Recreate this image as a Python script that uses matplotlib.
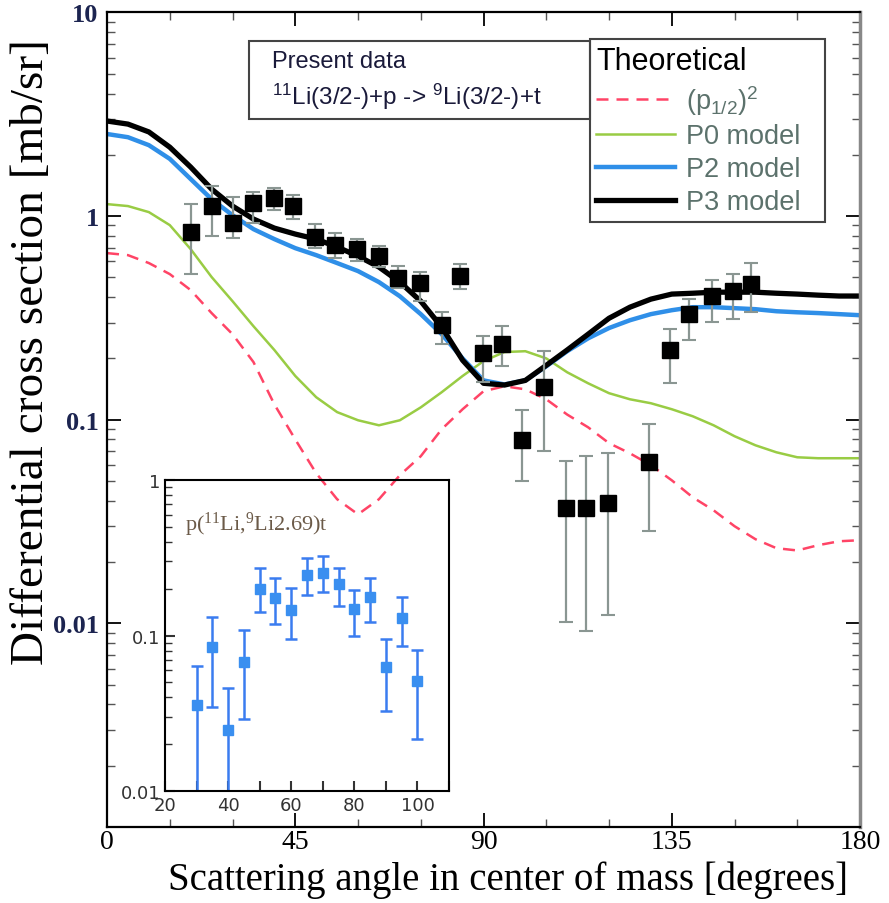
import matplotlib.pyplot as plt
from matplotlib.ticker import MultipleLocator, LogLocator, NullFormatter
from matplotlib.patches import Rectangle

# theory curves, read every 5 degrees
angle = list(range(0, 181, 5))
p3 = [2.93, 2.83, 2.59, 2.18, 1.74, 1.357, 1.12, 0.967, 0.873, 0.816, 0.771, 0.705,
      0.636, 0.562, 0.474, 0.382, 0.285, 0.196, 0.151, 0.148, 0.156, 0.185, 0.22, 0.263,
      0.315, 0.357, 0.391, 0.414, 0.418, 0.423, 0.423, 0.423, 0.418, 0.414, 0.409, 0.405, 0.405]
p2 = [2.53, 2.44, 2.23, 1.91, 1.52, 1.21, 1.01, 0.863, 0.771, 0.696, 0.643, 0.588,
      0.537, 0.474, 0.404, 0.33, 0.263, 0.2, 0.156, 0.149, 0.156, 0.183, 0.217, 0.251,
      0.282, 0.308, 0.33, 0.345, 0.357, 0.357, 0.353, 0.349, 0.341, 0.337, 0.334, 0.33, 0.326]
p0 = [1.145, 1.12, 1.046, 0.903, 0.688, 0.502, 0.382, 0.288, 0.22, 0.164, 0.129, 0.109,
      0.0994, 0.0939, 0.0994, 0.115, 0.1365, 0.164, 0.194, 0.215, 0.217, 0.2, 0.171, 0.151,
      0.135, 0.126, 0.1205, 0.1126, 0.104, 0.0939, 0.083, 0.0749, 0.0692, 0.0654, 0.0647, 0.0647, 0.0647]
p12 = [0.658, 0.643, 0.588, 0.519, 0.433, 0.334, 0.263, 0.192, 0.119, 0.080, 0.0546, 0.0407,
       0.0343, 0.0407, 0.0534, 0.0662, 0.0898, 0.1126, 0.138, 0.146, 0.141, 0.126, 0.106, 0.0918,
       0.0767, 0.0684, 0.0598, 0.0504, 0.0416, 0.0359, 0.030, 0.0259, 0.0234, 0.0228, 0.0242, 0.0253, 0.0256]

# present data
dat_x = [20.0, 25.0, 30.1, 35.0, 39.8, 44.4, 49.8, 54.5, 59.7, 64.9, 69.5, 74.8, 80.0, 84.3,
         89.9, 94.5, 99.2, 104.4, 109.6, 114.4, 119.7, 129.5, 134.6, 139.2, 144.6, 149.7, 154.0]
dat_y = [0.834, 1.124, 0.924, 1.158, 1.222, 1.124, 0.786, 0.72, 0.689, 0.634, 0.494, 0.467, 0.292, 0.509,
         0.212, 0.235, 0.0793, 0.144, 0.0367, 0.0367, 0.0392, 0.062, 0.22, 0.332, 0.406, 0.43, 0.463]
dat_hi = [1.145, 1.41, 1.236, 1.32, 1.38, 1.268, 0.913, 0.822, 0.771, 0.712, 0.566, 0.529, 0.338, 0.581,
          0.258, 0.288, 0.111, 0.217, 0.0628, 0.066, 0.0685, 0.095, 0.279, 0.391, 0.485, 0.519, 0.588]
dat_lo = [0.519, 0.795, 0.777, 0.93, 1.07, 0.967, 0.696, 0.62, 0.603, 0.562, 0.446, 0.383, 0.235, 0.438,
          0.153, 0.184, 0.0499, 0.070, 0.0101, 0.00917, 0.011, 0.0284, 0.152, 0.247, 0.302, 0.312, 0.337]

# inset data p(11Li,9Li 2.69)t
ins_x = [30, 35, 40, 45, 50, 55, 60, 65, 70, 75, 80, 85, 90, 95, 100]
ins_y = [0.0356, 0.0843, 0.0247, 0.0676, 0.200, 0.175, 0.146, 0.244, 0.254, 0.213, 0.147, 0.178, 0.063, 0.130, 0.051]
ins_hi = [0.064, 0.131, 0.046, 0.108, 0.273, 0.235, 0.203, 0.315, 0.325, 0.273, 0.196, 0.235, 0.095, 0.177, 0.081]
ins_lo = [0.005, 0.0347, 0.005, 0.0292, 0.142, 0.119, 0.095, 0.183, 0.19, 0.155, 0.099, 0.123, 0.0325, 0.086, 0.0217]

serif = ['Liberation Serif', 'DejaVu Serif']
sans = ['Liberation Sans', 'DejaVu Sans']

fig = plt.figure(figsize=(8.89, 9.04), dpi=100)
ax = fig.add_axes([0.1204, 0.0841, 0.8470, 0.9010])

l12, = ax.plot(angle, p12, color='#ff4466', lw=1.8, ls=(0, (4.8, 3.2)), label=r'$\mathregular{(p_{1/2})^2}$')
l0, = ax.plot(angle, p0, color='#99cc44', lw=1.8, label='P0 model')
l2, = ax.plot(angle, p2, color='#2f8fe8', lw=3.2, label='P2 model')
l3, = ax.plot(angle, p3, color='black', lw=3.8, label='P3 model')
for ln in (l12, l0, l2, l3):
    ln.set_solid_joinstyle('round')
    ln.set_dash_joinstyle('round')

yerr = [[y - lo for y, lo in zip(dat_y, dat_lo)], [hi - y for y, hi in zip(dat_y, dat_hi)]]
ax.errorbar(dat_x, dat_y, yerr=yerr, fmt='s', color='black', ms=11, ecolor='#8a9692',
            elinewidth=1.6, capsize=5, capthick=1.5, zorder=5)

ax.set_xlim(0, 180)
ax.set_ylim(1e-3, 10)
ax.set_yscale('log')
ax.set_xticks([0, 45, 90, 135, 180])
ax.xaxis.set_minor_locator(MultipleLocator(15))
ax.set_yticks([1e-3, 1e-2, 1e-1, 1, 10])
ax.set_yticklabels(['', '0.01', '0.1', '1', '10'])
ax.yaxis.set_minor_locator(LogLocator(base=10, subs=range(2, 10)))
ax.yaxis.set_minor_formatter(NullFormatter())
ax.tick_params(which='both', direction='in', top=True, right=True)
ax.tick_params(which='major', length=10, width=1.3)
ax.tick_params(which='minor', length=6, width=1.0, color='#555555')
ax.tick_params(axis='x', labelsize=20, pad=1.5)
ax.tick_params(axis='y', labelsize=19, pad=6)
for t in ax.get_xticklabels():
    t.set_family(serif)
for t in ax.get_yticklabels():
    t.set_family(serif)
    t.set_fontweight('bold')
    t.set_color('#1c2450')
for s in ['left', 'bottom', 'top']:
    ax.spines[s].set_linewidth(1.6)
ax.spines['right'].set_linewidth(2.5)
ax.spines['right'].set_color('#888888')

ax.set_xlabel('Scattering angle in center of mass [degrees]', family=serif, fontsize=28)
ax.set_ylabel('Differential cross section [mb/sr]', family=serif, fontsize=34)
ax.xaxis.set_label_coords(0.5325, -0.0405)
ax.yaxis.set_label_coords(-0.0717, 0.584)

# "Present data" box
ax.add_patch(Rectangle((0.1886, 0.869), 0.4528, 0.096, transform=ax.transAxes, fill=False,
                       ec='#444444', lw=1.5, zorder=6))
ax.text(0.219, 0.941, 'Present data', transform=ax.transAxes, family=sans, fontsize=17,
        va='center', color='#1a1a3a')
ax.text(0.219, 0.898, r'$\mathregular{^{11}}$Li(3/2-)+p -> $\mathregular{^{9}}$Li(3/2-)+t',
        transform=ax.transAxes, family=sans, fontsize=17.5, va='center', color='#1a1a3a')

leg = ax.legend(handles=[l12, l0, l2, l3], title='Theoretical', loc='upper left',
                bbox_to_anchor=(0.641, 0.732, 0.312, 0.235), mode='expand', borderaxespad=0,
                frameon=True, fancybox=False, edgecolor='#444444', framealpha=1,
                prop={'family': sans, 'size': 19.5}, title_fontproperties={'family': sans, 'size': 22},
                handlelength=2.9, handletextpad=0.4, labelspacing=0.25, borderpad=0.25,
                alignment='left')
leg.get_frame().set_linewidth(1.5)
for t in leg.get_texts():
    t.set_color('#5c726c')

# inset
ax2 = fig.add_axes([0.1856, 0.1239, 0.3195, 0.3440])
ax2.patch.set_alpha(0)
ierr = [[y - lo for y, lo in zip(ins_y, ins_lo)], [hi - y for y, hi in zip(ins_y, ins_hi)]]
ax2.errorbar(ins_x, ins_y, yerr=ierr, fmt='s', color='#3a8ff0', ms=7.5, ecolor='#3a7cf0',
             elinewidth=1.8, capsize=4, capthick=1.8)
ax2.set_xlim(20, 110)
ax2.set_ylim(0.01, 1)
ax2.set_yscale('log')
ax2.set_xticks([20, 40, 60, 80, 100])
ax2.xaxis.set_minor_locator(MultipleLocator(10))
ax2.set_yticks([0.01, 0.1, 1])
ax2.set_yticklabels(['0.01', '0.1', '1'])
ax2.yaxis.set_minor_locator(LogLocator(base=10, subs=range(2, 10)))
ax2.yaxis.set_minor_formatter(NullFormatter())
ax2.tick_params(which='both', direction='in', labelsize=13, colors='#333333')
ax2.tick_params(which='major', length=7, width=1.5)
ax2.tick_params(which='minor', length=5, width=1.0)
ax2.tick_params(axis='x', which='minor', length=7, width=1.5)
for s in ax2.spines.values():
    s.set_linewidth(1.5)
ax2.text(0.07, 0.86, r'p($\mathregular{^{11}}$Li,$\mathregular{^{9}}$Li2.69)t', transform=ax2.transAxes,
         family=serif, fontsize=16, color='#6b5a48', va='center')

fig.savefig('out.png', dpi=100)
